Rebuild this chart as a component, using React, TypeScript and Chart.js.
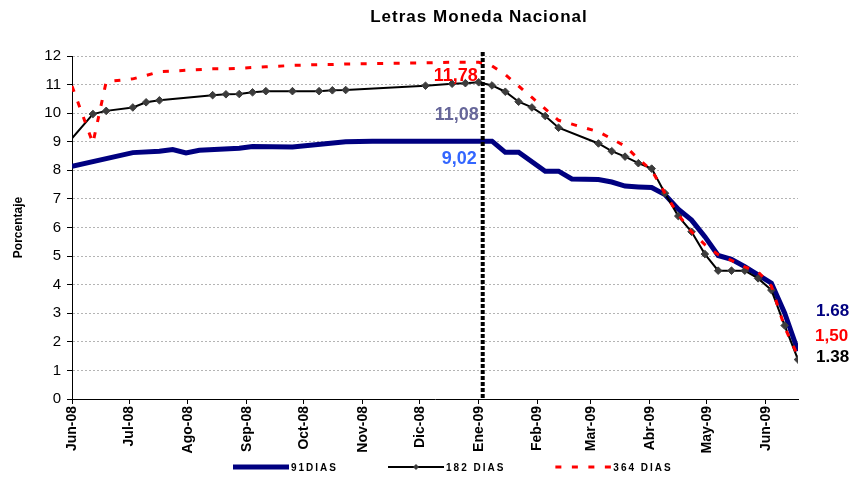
import React, { useEffect, useRef } from 'react';
import { Chart, registerables } from 'chart.js';

Chart.register(...registerables);

const FONT = 'Arial, "Liberation Sans", Helvetica, sans-serif';

const chartTitle = 'Letras Moneda Nacional';
const yAxisTitle = 'Porcentaje';
const seriesNames = ['91DIAS', '182 DIAS', '364 DIAS'];

// 91 días
const dates91 = [
  '2008-06-01', '2008-07-03', '2008-07-17', '2008-07-24', '2008-07-31', '2008-08-07',
  '2008-08-28', '2008-09-04', '2008-09-25', '2008-10-23', '2008-11-06', '2008-12-04',
  '2009-01-01', '2009-01-08', '2009-01-15', '2009-01-22', '2009-02-05', '2009-02-12',
  '2009-02-19', '2009-03-05', '2009-03-12', '2009-03-19', '2009-03-26', '2009-04-02',
  '2009-04-09', '2009-04-16', '2009-04-23', '2009-04-30', '2009-05-07', '2009-05-14',
  '2009-05-21', '2009-05-28', '2009-06-04', '2009-06-11', '2009-06-18',
];
const values91 = [
  8.14, 8.62, 8.67, 8.73, 8.61, 8.7,
  8.77, 8.83, 8.82, 9.0, 9.02, 9.02,
  9.02, 9.02, 8.63, 8.63, 7.97, 7.97,
  7.7, 7.68, 7.59, 7.45, 7.42, 7.4,
  7.15, 6.64, 6.26, 5.68, 5.02, 4.89,
  4.63, 4.34, 4.05, 3.0, 1.68,
];

// 182 días
const dates182 = [
  '2008-06-01', '2008-06-12', '2008-06-19', '2008-07-03', '2008-07-10', '2008-07-17',
  '2008-08-14', '2008-08-21', '2008-08-28', '2008-09-04', '2008-09-11', '2008-09-25',
  '2008-10-09', '2008-10-16', '2008-10-23', '2008-12-04', '2008-12-18', '2008-12-25',
  '2009-01-01', '2009-01-08', '2009-01-15', '2009-01-22', '2009-01-29', '2009-02-05',
  '2009-02-12', '2009-03-05', '2009-03-12', '2009-03-19', '2009-03-26', '2009-04-02',
  '2009-04-09', '2009-04-16', '2009-04-23', '2009-04-30', '2009-05-07', '2009-05-14',
  '2009-05-21', '2009-05-28', '2009-06-04', '2009-06-11', '2009-06-18',
];
const values182 = [
  9.12, 9.97, 10.08, 10.2, 10.38, 10.45,
  10.63, 10.66, 10.67, 10.73, 10.77, 10.77,
  10.77, 10.8, 10.81, 10.96, 11.03, 11.05,
  11.08, 10.97, 10.75, 10.4, 10.2, 9.9,
  9.49, 8.94, 8.67, 8.48, 8.25, 8.06,
  7.2, 6.4, 5.85, 5.07, 4.49, 4.49,
  4.49, 4.22, 3.81, 2.57, 1.38,
];

// 364 días
const dates364 = [
  '2008-06-01', '2008-06-12', '2008-06-19', '2008-07-03', '2008-07-10', '2008-07-17',
  '2008-08-14', '2008-08-21', '2008-08-28', '2008-09-04', '2008-09-11', '2008-09-25',
  '2008-10-09', '2008-10-16', '2008-10-23', '2008-12-04', '2008-12-18', '2008-12-25',
  '2009-01-01', '2009-01-08', '2009-01-15', '2009-01-22', '2009-01-29', '2009-02-05',
  '2009-02-12', '2009-03-05', '2009-03-12', '2009-03-19', '2009-03-26', '2009-04-02',
  '2009-04-09', '2009-04-16', '2009-04-23', '2009-04-30', '2009-05-07', '2009-05-14',
  '2009-05-21', '2009-05-28', '2009-06-04', '2009-06-11', '2009-06-18',
];
const values364 = [
  10.95, 8.95, 11.1, 11.2, 11.32, 11.45,
  11.55, 11.55, 11.57, 11.6, 11.62, 11.67,
  11.7, 11.7, 11.72, 11.76, 11.78, 11.78,
  11.78, 11.65, 11.35, 10.95, 10.55, 10.15,
  9.75, 9.35, 9.1, 8.85, 8.4, 8.0,
  7.2, 6.45, 5.85, 5.4, 5.05, 4.85,
  4.62, 4.45, 3.95, 2.5, 1.5,
];

const monthTickDates = [
  '2008-06-01', '2008-07-01', '2008-08-01', '2008-09-01', '2008-10-01', '2008-11-01',
  '2008-12-01', '2009-01-01', '2009-02-01', '2009-03-01', '2009-04-01', '2009-05-01',
  '2009-06-01',
];
const monthTickLabels = [
  'Jun-08', 'Jul-08', 'Ago-08', 'Sep-08', 'Oct-08', 'Nov-08',
  'Dic-08', 'Ene-09', 'Feb-09', 'Mar-09', 'Abr-09', 'May-09', 'Jun-09',
];

const yTicks = [0, 1, 2, 3, 4, 5, 6, 7, 8, 9, 10, 11, 12];

const startDate = '2008-06-01';
const markerDate = '2009-01-01';

const dayOf = (s: string) => {
  const [y, m, d] = s.split('-').map(Number);
  const [y0, m0, d0] = startDate.split('-').map(Number);
  return Math.round((Date.UTC(y, m - 1, d) - Date.UTC(y0, m0 - 1, d0)) / 86400000);
};

const toPoints = (dates: string[], values: number[]) =>
  dates.map((d, i) => ({ x: dayOf(d), y: values[i] }));

const tickDays = monthTickDates.map(dayOf);
const lastDay = Math.max(...dates91.map(dayOf), ...dates182.map(dayOf), ...dates364.map(dayOf));

export default function App() {
  const canvasRef = useRef<HTMLCanvasElement | null>(null);

  useEffect(() => {
    const canvas = canvasRef.current;
    if (!canvas) return;

    const titlePlugin = {
      id: 'customTitle',
      afterDraw(chart: any) {
        const ctx = chart.ctx;
        ctx.save();
        ctx.font = `bold 17px ${FONT}`;
        (ctx as any).letterSpacing = '1px';
        ctx.fillStyle = '#000';
        ctx.textAlign = 'center';
        ctx.textBaseline = 'alphabetic';
        ctx.fillText(chartTitle, 479, 22);
        ctx.restore();
      },
    };

    const markerLinePlugin = {
      id: 'markerLine',
      afterDatasetsDraw(chart: any) {
        const { ctx, chartArea, scales } = chart;
        const x = scales.x.getPixelForValue(dayOf(markerDate)) + 4;
        ctx.save();
        ctx.strokeStyle = '#000';
        ctx.lineWidth = 4;
        ctx.setLineDash([4, 2]);
        ctx.beginPath();
        ctx.moveTo(x, chartArea.top - 4);
        ctx.lineTo(x, chartArea.bottom);
        ctx.stroke();
        ctx.restore();

        // value labels
        const ys = scales.y;
        const xJan = scales.x.getPixelForValue(dayOf(markerDate));
        const right = chartArea.right;
        const labels = [
          { t: '11,78', c: '#FF0000', x: xJan - 1, y: ys.getPixelForValue(11.78) + 19, a: 'right', s: 18 },
          { t: '11,08', c: '#666699', x: xJan, y: ys.getPixelForValue(11.08) + 38, a: 'right', s: 18 },
          { t: '9,02', c: '#3366FF', x: xJan - 2, y: ys.getPixelForValue(9.02) + 23, a: 'right', s: 18 },
          { t: '1.68', c: '#000080', x: right + 18, y: ys.getPixelForValue(1.68) - 35, a: 'left', s: 17 },
          { t: '1,50', c: '#FF0000', x: right + 17, y: ys.getPixelForValue(1.5) - 15, a: 'left', s: 17 },
          { t: '1.38', c: '#000000', x: right + 18, y: ys.getPixelForValue(1.38) + 2, a: 'left', s: 17 },
        ];
        ctx.save();
        ctx.textBaseline = 'alphabetic';
        for (const l of labels) {
          ctx.font = `bold ${l.s}px ${FONT}`;
          ctx.fillStyle = l.c;
          ctx.textAlign = l.a;
          ctx.fillText(l.t, l.x, l.y);
        }
        ctx.restore();
      },
    };

    const legendPlugin = {
      id: 'customLegend',
      afterDraw(chart: any) {
        const ctx = chart.ctx;
        const y = 467;
        let x = 233;
        const lineLen = 56;
        ctx.save();
        ctx.font = `bold 10px ${FONT}`;
        (ctx as any).letterSpacing = '2px';
        ctx.textBaseline = 'middle';
        ctx.textAlign = 'left';
        chart.data.datasets.forEach((ds: any) => {
          ctx.save();
          ctx.strokeStyle = ds.borderColor;
          ctx.lineWidth = ds.borderWidth;
          ctx.setLineDash(ds.borderDash || []);
          ctx.beginPath();
          ctx.moveTo(x, y);
          ctx.lineTo(x + lineLen, y);
          ctx.stroke();
          if (ds.legendMarker) {
            const cx = x + lineLen / 2;
            ctx.setLineDash([]);
            ctx.fillStyle = ds.pointBackgroundColor;
            ctx.beginPath();
            ctx.moveTo(cx, y - 3);
            ctx.lineTo(cx + 3, y);
            ctx.lineTo(cx, y + 3);
            ctx.lineTo(cx - 3, y);
            ctx.closePath();
            ctx.fill();
          }
          ctx.restore();
          ctx.fillStyle = '#000';
          ctx.fillText(ds.label, x + lineLen + 2, y + 1);
          const w = ctx.measureText(ds.label).width;
          x += lineLen + 2 + w + 50;
        });
        ctx.restore();
      },
    };

    const chart = new Chart(canvas, {
      type: 'line',
      data: {
        datasets: [
          {
            label: seriesNames[0],
            data: toPoints(dates91, values91),
            borderColor: '#000080',
            backgroundColor: '#000080',
            borderWidth: 5,
            pointRadius: 0,
            tension: 0,
            order: 2,
          } as any,
          {
            label: seriesNames[1],
            data: toPoints(dates182, values182),
            borderColor: '#000000',
            backgroundColor: '#404040',
            borderWidth: 2,
            pointStyle: 'rectRot',
            pointRadius: (c: any) => (c.dataIndex === 0 ? 0 : 3.8),
            pointBackgroundColor: '#3c3c3c',
            pointBorderColor: '#3c3c3c',
            pointBorderWidth: 1,
            tension: 0,
            order: 1,
            legendMarker: true,
          } as any,
          {
            label: seriesNames[2],
            data: toPoints(dates364, values364),
            borderColor: '#FF0000',
            backgroundColor: '#FF0000',
            borderWidth: 3,
            borderDash: [6, 10.5],
            pointRadius: 0,
            tension: 0,
            order: 0,
          } as any,
        ],
      },
      options: {
        responsive: false,
        animation: false,
        devicePixelRatio: 1,
        layout: { padding: { top: 56, right: 56, left: 0, bottom: 0 } },
        plugins: {
          legend: { display: false },
          title: { display: false },
          tooltip: { enabled: false },
        },
        scales: {
          x: {
            type: 'linear',
            min: 0,
            max: lastDay,
            afterBuildTicks: (scale: any) => {
              scale.ticks = tickDays.map((v) => ({ value: v }));
            },
            afterFit: (scale: any) => {
              scale.height = 78;
            },
            ticks: {
              autoSkip: false,
              maxRotation: 90,
              minRotation: 90,
              padding: 2,
              color: '#000',
              font: { family: FONT, size: 14, weight: 'bold' },
              callback: (value: any) => {
                const i = tickDays.indexOf(Number(value));
                return i >= 0 ? monthTickLabels[i] : '';
              },
            },
            grid: {
              drawOnChartArea: false,
              drawTicks: true,
              tickLength: 5,
              tickColor: '#000',
              color: '#000',
            },
            border: { display: true, color: '#000', width: 1 },
          },
          y: {
            type: 'linear',
            min: 0,
            max: 12,
            afterBuildTicks: (scale: any) => {
              scale.ticks = yTicks.map((v) => ({ value: v }));
            },
            afterFit: (scale: any) => {
              scale.width = 72;
            },
            ticks: {
              padding: 6,
              color: '#000',
              font: { family: FONT, size: 15 },
            },
            grid: {
              color: '#b4b4b4',
              lineWidth: 1,
              drawTicks: true,
              tickLength: 5,
              tickColor: '#000',
              tickBorderDash: [],
            },
            border: { display: true, color: '#000', width: 1, dash: [2, 2] },
            title: {
              display: true,
              text: yAxisTitle,
              color: '#000',
              font: { family: FONT, size: 12, weight: 'bold' },
              padding: { top: 11, bottom: 0 },
            },
          },
        },
      } as any,
      plugins: [titlePlugin, markerLinePlugin, legendPlugin],
    });

    return () => {
      chart.destroy();
    };
  }, []);

  return (
    <div style={{ position: 'absolute', left: 0, top: 0, width: 854, height: 477, background: '#fff' }}>
      <canvas ref={canvasRef} width={854} height={477} style={{ display: 'block' }} />
    </div>
  );
}
